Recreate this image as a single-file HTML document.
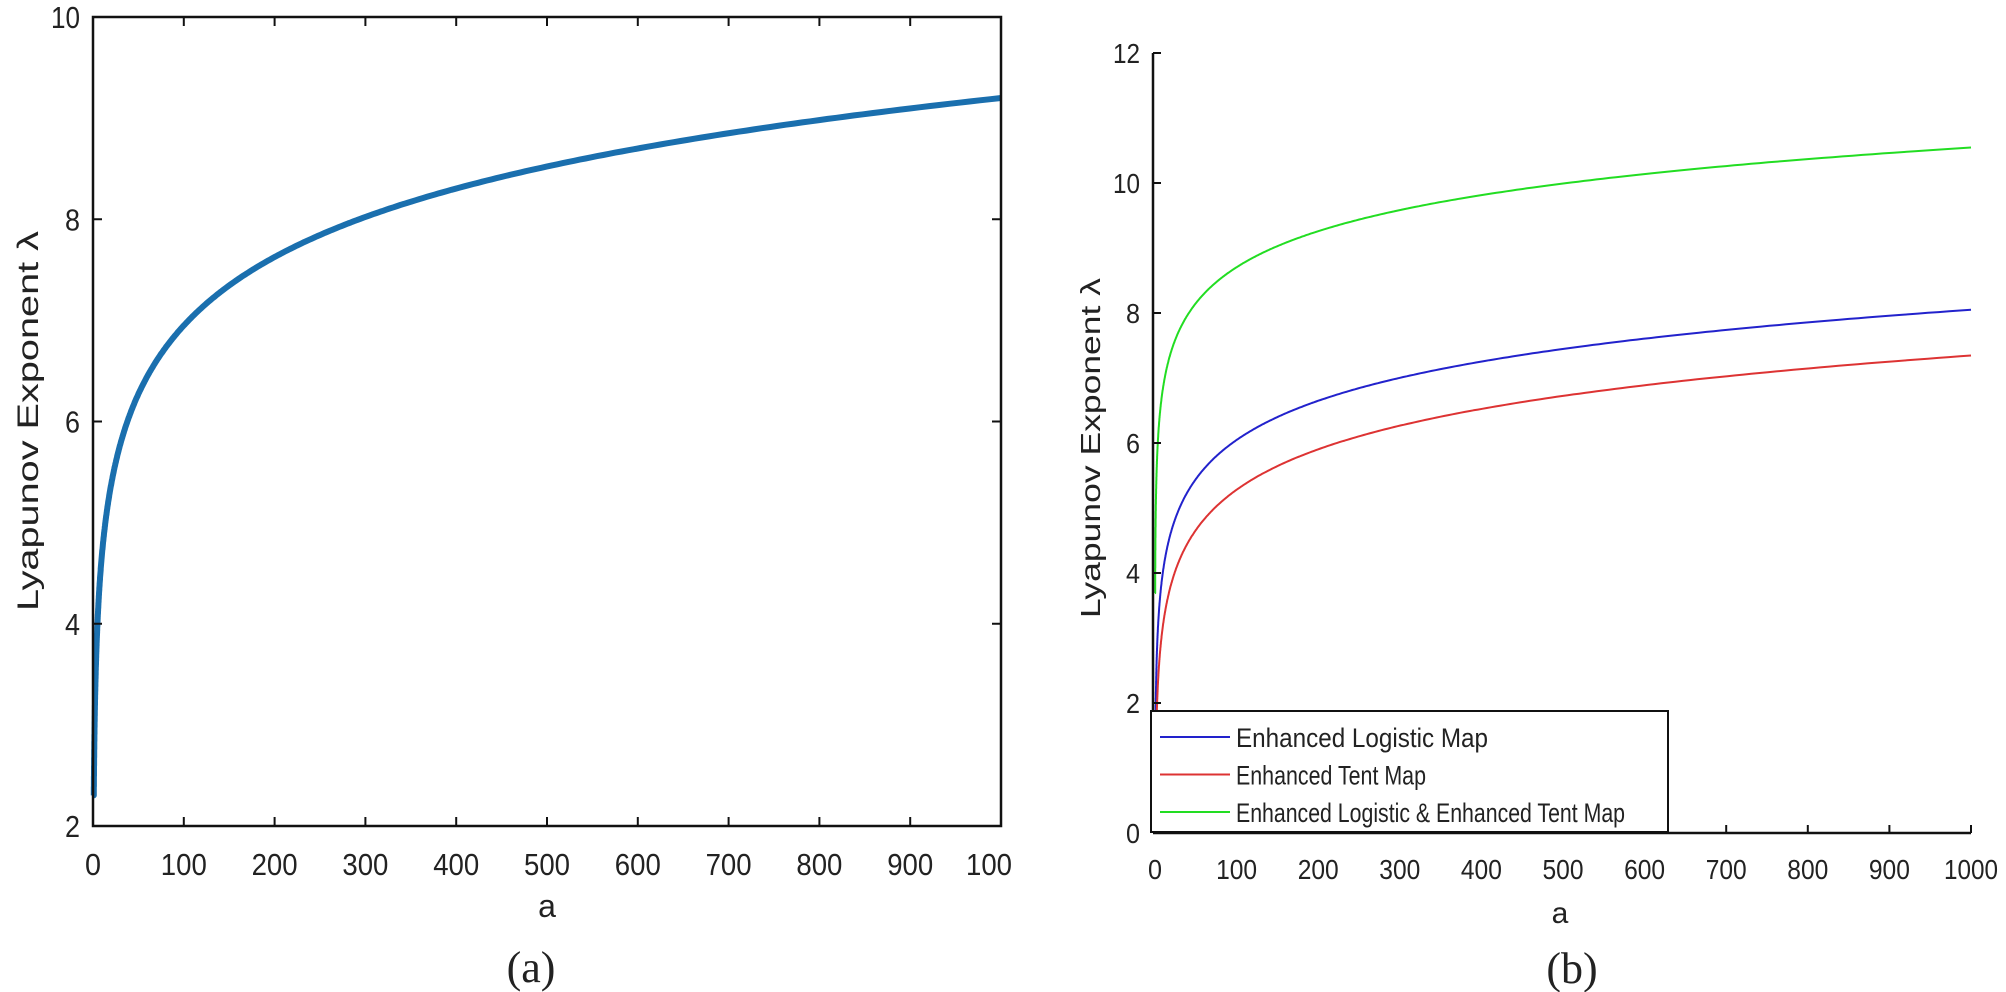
<!DOCTYPE html>
<html><head><meta charset="utf-8"><style>
html,body{margin:0;padding:0;background:#fff;}
svg{display:block;}
text{font-family:"Liberation Sans",sans-serif;fill:#222;}
</style></head><body>
<svg id="s" width="2006" height="992" viewBox="0 0 2006 992" xmlns="http://www.w3.org/2000/svg">
<rect width="2006" height="992" fill="#fff"/>
<g id="g"></g>
<text x="531" y="982" font-family="Liberation Serif, serif" style="font-family:'Liberation Serif',serif" font-size="44" text-anchor="middle">(a)</text>
<text x="1572" y="983" style="font-family:'Liberation Serif',serif" font-size="44" text-anchor="middle">(b)</text>
<text x="547" y="917" font-size="32" text-anchor="middle">a</text>
<text x="1560" y="923" font-size="30" text-anchor="middle">a</text>
<text transform="translate(38,421) rotate(-90)" font-size="30" text-anchor="middle" textLength="380" lengthAdjust="spacingAndGlyphs">Lyapunov Exponent λ</text>
<text transform="translate(1100,448) rotate(-90)" font-size="28" text-anchor="middle" textLength="340" lengthAdjust="spacingAndGlyphs">Lyapunov Exponent λ</text>
</svg>
<script>
var NS="http://www.w3.org/2000/svg",g=document.getElementById('g');
function el(t,a,txt){var e=document.createElementNS(NS,t);for(var k in a)e.setAttribute(k,a[k]);if(txt!=null)e.textContent=txt;g.appendChild(e);return e;}
function line(x1,y1,x2,y2,c,w){el('line',{x1:x1,y1:y1,x2:x2,y2:y2,stroke:c||'#111',"stroke-width":w||2});}
function txt(x,y,s,fs,anc,tl){var a={x:x,y:y,"font-size":fs,"text-anchor":anc||'middle'};if(tl){a.textLength=tl;a.lengthAdjust="spacingAndGlyphs";}el('text',a,s);}
// Left plot
var L={x0:93,x1:1001,y0:826,y1:17};
function lx(a){return L.x0+a*(L.x1-L.x0)/1000;}
function ly(v){return L.y0-(v-2)*(L.y0-L.y1)/8;}
function path(f,a0,X,Y,col,w){var d='',first=true;for(var i=0;i<=600;i++){var t=i/600;var a=a0*Math.pow(1000/a0,t);var v=f(a);d+=(first?'M':'L')+X(a).toFixed(1)+' '+Y(v).toFixed(1);first=false;}
 el('path',{d:'M'+X(0).toFixed(1)+' '+Y(f(a0)).toFixed(1)+d.replace(/^M/,'L'),fill:'none',stroke:col,"stroke-width":w,"stroke-linejoin":"round"});}
path(function(a){return 2.45+0.977*Math.log(a);},0.86,lx,ly,'#1a6fae',6);
el('rect',{x:L.x0,y:L.y1,width:L.x1-L.x0,height:L.y0-L.y1,fill:'none',stroke:'#111',"stroke-width":2.5});
for(var i=0;i<=10;i++){var x=lx(i*100);line(x,L.y0,x,L.y0-9);line(x,L.y1,x,L.y1+9);
 if(i<10)txt(x,875,String(i*100),31,'middle',i==0?16:(i*100>=100?46:0)); }
txt(966,875,"100",31,'start',46);
for(var v=2;v<=10;v+=2){var y=ly(v);line(L.x0,y,L.x0+9,y);line(L.x1,y,L.x1-9,y);txt(80,y+11,String(v),31,'end',v==10?29:15);}
// Right plot
var R={x0:1155,x1:1971,y0:833};
function rx(a){return R.x0+a*(R.x1-R.x0)/1000;}
function ry(v){return R.y0-v*65;}
path(function(a){return 5.02+0.8*Math.log(a);},0.19,rx,ry,'#22dd22',2);
path(function(a){return 2.04+0.87*Math.log(a);},0.30,rx,ry,'#2222cc',2);
path(function(a){return 1.15+0.897*Math.log(a);},0.28,rx,ry,'#dd3333',2);
line(R.x0-2,R.y0,R.x1,R.y0,'#111',2.5);line(R.x0-2,R.y0,R.x0-2,ry(12),'#111',2.5);
for(var i=0;i<=10;i++){var x=rx(i*100);line(x,R.y0,x,R.y0-8);txt(x,879,String(i*100),28,'middle',i==0?14:(i==10?54:41));}
for(var v=0;v<=12;v+=2){var y=ry(v);line(R.x0-2,y,R.x0+6,y);txt(1140,y+10,String(v),28,'end',v>=10?27:14);}
// legend
el('rect',{x:1151,y:711,width:517,height:121,fill:'#fff',stroke:'#111',"stroke-width":2});
var lg=[['#2222cc','Enhanced Logistic Map',252],['#dd3333','Enhanced Tent Map',190],['#22dd22','Enhanced Logistic & Enhanced Tent Map',389]];
for(var i=0;i<3;i++){var y=737+i*37.5;line(1160,y,1230,y,lg[i][0],2);txt(1236,y+10,lg[i][1],27,'start',lg[i][2]);}
</script>
</body></html>
